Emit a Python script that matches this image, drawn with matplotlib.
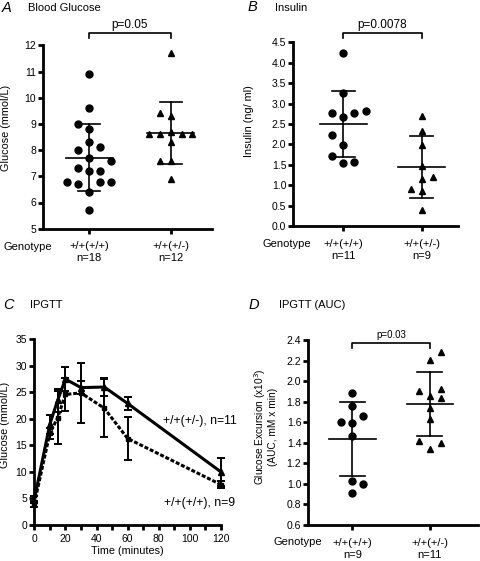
import numpy as np
import matplotlib
matplotlib.use('Agg')
import matplotlib.pyplot as plt
from matplotlib.transforms import blended_transform_factory

plt.rcParams['font.family'] = ['Liberation Sans', 'DejaVu Sans']

# ---------------- data ----------------
genotypes = ['+/+(+/+)', '+/+(+/-)']

# A: blood glucose (mmol/L)
glucose_wt = [10.9, 9.6, 9.0, 8.8, 8.3, 8.0, 8.1, 7.7, 7.6, 7.3, 7.2, 7.2, 6.8, 6.7, 6.8, 6.8, 6.4, 5.7]
glucose_het = [11.7, 9.4, 9.3, 8.6, 8.6, 8.7, 8.6, 8.6, 8.3, 7.6, 7.6, 6.9]

# B: insulin (ng/ml)
insulin_wt = [4.23, 3.25, 2.77, 2.68, 2.76, 2.81, 2.24, 1.98, 1.71, 1.55, 1.58]
insulin_het = [2.70, 2.33, 1.98, 1.48, 1.15, 1.19, 0.91, 0.86, 0.40]

# C: IPGTT time course (mean, error)
times = [0, 10, 15, 20, 30, 45, 60, 120]
ipgtt_het_mean = [4.8, 19.0, 23.5, 27.5, 25.9, 26.0, 22.9, 10.0]
ipgtt_het_err = [0.7, 1.8, 2.2, 2.2, 1.2, 1.7, 1.3, 2.6]
ipgtt_wt_mean = [4.0, 17.3, 20.2, 24.6, 24.9, 22.0, 16.3, 7.6]
ipgtt_wt_err = [0.6, 1.0, 5.0, 3.2, 5.7, 5.5, 4.1, 0.7]

# D: AUC (x10^3)
auc_wt = [1.88, 1.755, 1.60, 1.59, 1.66, 1.47, 1.03, 1.00, 0.91]
auc_het = [2.28, 2.21, 1.90, 1.92, 1.86, 1.84, 1.74, 1.63, 1.42, 1.40, 1.34]

# ---------------- layout (swarm offsets in units of one marker step) ----------------
swarm_a_wt = [0, 0, -1, 0, 0, -1, 1, 0, 2, -1, 0, 1, -2, -1, 1, 2, 0, 0]
swarm_a_het = [0, -1, 0, -2, -1, 0, 1, 2, 0, -1, 0, 0]
swarm_b_wt = [0, 0, -1, 0, 1, 2, -1, 0, -1, 0, 1]
swarm_b_het = [0, 0, 0, 0, 0, 1, -1, 0, 0]
swarm_d_wt = [0, 0, -1, 0, 1, 0, 0, 1, 0]
swarm_d_het = [1, 0, -1, 1, 0, 1, 0, 0, -1, 1, 0]

W, H = 480, 561
fig = plt.figure(figsize=(W / 100, H / 100), dpi=100)


def ax_px(l, t, r, b):
    return fig.add_axes([l / W, 1 - b / H, (r - l) / W, (b - t) / H])


def ftext(x, y, s, **kw):
    kw.setdefault('va', 'center')
    fig.text(x / W, 1 - y / H, s, **kw)


SP_LW = 2.0
TICK_FS = 7.5
LAB_FS = 7.8
TXT_FS = 8.0


def style_axes(ax):
    for s in ['top', 'right']:
        ax.spines[s].set_visible(False)
    for s in ['left', 'bottom']:
        ax.spines[s].set_linewidth(SP_LW)
    ax.tick_params(axis='both', width=SP_LW, length=3.6, labelsize=TICK_FS, pad=1.5)


def dot_panel(ax, groups, swarms, step, ns, half_mean=0.3, half_cap=0.14):
    markers = ['o', '^']
    for i, (vals, sw) in enumerate(zip(groups, swarms)):
        vals = np.asarray(vals)
        xs = i + np.asarray(sw) * step
        ax.plot(xs, vals, linestyle='none', marker=markers[i], ms=5.0,
                color='black', mec='black', clip_on=False, zorder=3)
        m = vals.mean()
        sd = vals.std(ddof=1)
        ax.plot([i - half_mean, i + half_mean], [m, m], color='black', lw=1.2, zorder=2)
        ax.plot([i - half_cap, i + half_cap], [m + sd, m + sd], color='black', lw=1.2, zorder=2)
        ax.plot([i - half_cap, i + half_cap], [m - sd, m - sd], color='black', lw=1.2, zorder=2)
        ax.plot([i, i], [m - sd, m + sd], color='black', lw=1.2, zorder=2)
    ax.set_xticks([0, 1])
    ax.set_xticklabels([f'{g}\nn={n}' for g, n in zip(genotypes, ns)],
                       fontsize=TXT_FS, linespacing=1.25)
    ax.tick_params(axis='x', pad=5.5)


def bracket(ax, y_line, y_tick, y_text, text, fs=8.5):
    tr = blended_transform_factory(ax.transData, ax.transAxes)
    ax.plot([0, 0, 1, 1], [y_tick, y_line, y_line, y_tick], color='black', lw=1.2,
            transform=tr, clip_on=False)
    ax.text(0.5, y_text, text, transform=tr, ha='center', va='center', fontsize=fs)


# ---------------- Panel A ----------------
axA = ax_px(43.3, 45.3, 212, 228.7)
style_axes(axA)
axA.set_ylim(5, 12)
axA.set_yticks(range(5, 13))
axA.set_xlim(-0.565, 1.51)
dot_panel(axA, [glucose_wt, glucose_het], [swarm_a_wt, swarm_a_het], 0.135,
          [len(glucose_wt), len(glucose_het)], half_mean=0.29, half_cap=0.135)
bracket(axA, 1.065, 1.04, 1.113, 'p=0.05')
ftext(2, 8, 'A', fontsize=10.5, style='italic')
ftext(28, 8, 'Blood Glucose', fontsize=TXT_FS)
ftext(6, 128, 'Glucose (mmol/L)', fontsize=LAB_FS, rotation=90, ha='center')
ftext(3, 247, 'Genotype', fontsize=TXT_FS)

# ---------------- Panel B ----------------
axB = ax_px(293.3, 42.3, 458, 226)
style_axes(axB)
axB.set_ylim(0, 4.5)
axB.set_yticks(np.arange(0, 4.51, 0.5))
axB.set_yticklabels([f'{v:.1f}' for v in np.arange(0, 4.51, 0.5)])
axB.set_xlim(-0.64, 1.465)
dot_panel(axB, [insulin_wt, insulin_het], [swarm_b_wt, swarm_b_het], 0.142,
          [len(insulin_wt), len(insulin_het)], half_mean=0.3, half_cap=0.15)
bracket(axB, 1.049, 1.025, 1.095, 'p=0.0078')
ftext(248, 7, 'B', fontsize=10.5, style='italic')
ftext(275, 8, 'Insulin', fontsize=TXT_FS)
ftext(249.5, 121, 'Insulin (ng/ ml)', fontsize=LAB_FS, rotation=90, ha='center')
ftext(262.7, 244, 'Genotype', fontsize=TXT_FS)

# ---------------- Panel C ----------------
axC = ax_px(34.3, 339.3, 221, 525)
style_axes(axC)
axC.set_ylim(0, 35)
axC.set_yticks(range(0, 36, 5))
axC.set_xlim(0, 120)
axC.set_xticks(range(0, 121, 10))
axC.set_xticklabels([str(t) if t % 20 == 0 else '' for t in range(0, 121, 10)])
axC.tick_params(axis='x', pad=3)
axC.errorbar(times, ipgtt_het_mean, yerr=ipgtt_het_err, color='black', lw=2.2,
             marker='^', ms=4, capsize=2.6, elinewidth=1.4, capthick=1.4,
             clip_on=False, zorder=3)
eb = axC.errorbar(times, ipgtt_wt_mean, yerr=ipgtt_wt_err, color='black', lw=2.2,
                  marker='s', ms=3.5, capsize=2.6, elinewidth=1.4, capthick=1.4,
                  clip_on=False, zorder=3)
eb[0].set_dashes([1.3, 0.6])
axC.set_xlabel('Time (minutes)', fontsize=LAB_FS, labelpad=1.5)
ftext(3, 305, 'C', fontsize=10.5, style='italic')
ftext(30, 305, 'IPGTT', fontsize=TXT_FS)
ftext(5, 425, 'Glucose (mmol/L)', fontsize=LAB_FS, rotation=90, ha='center')
ftext(163, 421, '+/+(+/-), n=11', fontsize=8.8, ha='left')
ftext(164, 503, '+/+(+/+), n=9', fontsize=8.8, ha='left')

# ---------------- Panel D ----------------
axD = ax_px(308.3, 340, 478, 525)
style_axes(axD)
axD.set_ylim(0.6, 2.4)
yt = np.arange(0.6, 2.41, 0.2)
axD.set_yticks(yt)
axD.set_yticklabels([f'{v:.1f}' for v in yt])
axD.set_xlim(-0.566, 1.62)
dot_panel(axD, [auc_wt, auc_het], [swarm_d_wt, swarm_d_het], 0.142,
          [len(auc_wt), len(auc_het)], half_mean=0.3, half_cap=0.16)
bracket(axD, 0.982, 0.955, 1.028, 'p=0.03', fs=7)
ftext(249, 305, 'D', fontsize=10.5, style='italic')
ftext(279, 305, 'IPGTT (AUC)', fontsize=TXT_FS)
ftext(265, 427, 'Glucose Excursion (x10$^3$)\n(AUC, mM x min)', fontsize=7.3,
      rotation=90, ha='center', multialignment='center', linespacing=1.1)
ftext(273, 541.7, 'Genotype', fontsize=TXT_FS)

fig.savefig('out.png', dpi=100)
